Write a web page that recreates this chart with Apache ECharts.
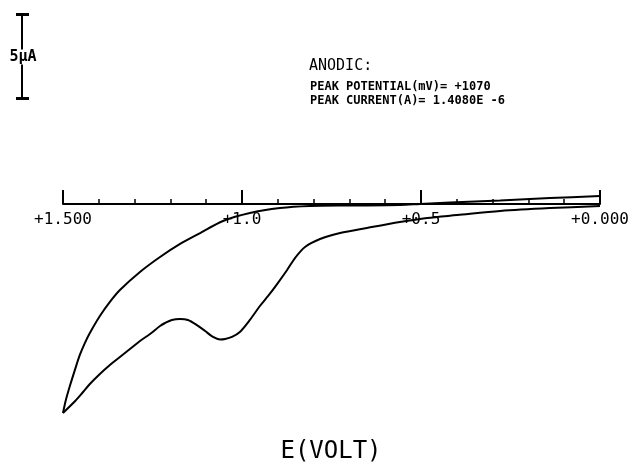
<!DOCTYPE html>
<html>
<head>
<meta charset="utf-8">
<script src="https://cdn.jsdelivr.net/npm/echarts@6/dist/echarts.min.js"></script>
<style>
  html, body { margin: 0; padding: 0; background: #fff; }
  #chart { width: 636px; height: 466px; }
</style>
</head>
<body>
<div id="chart"></div>
<script>
// Cyclic voltammogram: potential in volts, current in microamps (anodic drawn downward)
var forwardE = [0.000, 0.140, 0.279, 0.399, 0.483, 0.559, 0.651, 0.726, 0.782, 0.824, 0.852, 0.874,
                0.902, 0.927, 0.950, 0.978, 1.006, 1.028, 1.047, 1.061, 1.081, 1.103, 1.126, 1.151,
                1.173, 1.196, 1.215, 1.229, 1.257, 1.285, 1.313, 1.341, 1.369, 1.397, 1.425, 1.444,
                1.466, 1.500];
var forwardI = [0.12, 0.24, 0.41, 0.65, 0.82, 1.06, 1.41, 1.71, 2.06, 2.53, 3.18, 3.88,
                4.71, 5.41, 6.00, 6.82, 7.53, 7.82, 7.94, 7.97, 7.82, 7.47, 7.12, 6.82,
                6.76, 6.82, 7.00, 7.18, 7.65, 8.06, 8.53, 9.00, 9.47, 10.00, 10.59, 11.06,
                11.59, 12.29];

var reverseE = [1.500, 1.492, 1.480, 1.466, 1.453, 1.439, 1.425, 1.397, 1.369, 1.341, 1.285, 1.229,
                1.173, 1.117, 1.053, 0.978, 0.894, 0.810, 0.698, 0.559, 0.503, 0.419, 0.279, 0.140,
                0.000];
var reverseI = [12.29, 11.53, 10.65, 9.71, 8.88, 8.18, 7.59, 6.59, 5.76, 5.06, 4.00, 3.12,
                2.35, 1.71, 1.00, 0.53, 0.24, 0.12, 0.09, 0.06, 0.00, -0.09, -0.21, -0.35,
                -0.47];

var tickValues = [0, 0.5, 1.0, 1.5];
var tickLabels = ['+0.000', '+0.5', '+1.0', '+1.500'];

var scaleBarMicroamps = 5;
var scaleBarLabel = '5\u03bcA';
var headerLines = ['ANODIC:', 'PEAK POTENTIAL(mV)= +1070', 'PEAK CURRENT(A)= 1.4080E -6'];
var xTitle = 'E(VOLT)';

function pairs(xs, ys) {
  return xs.map(function (x, i) { return [x, ys[i]]; });
}

var mono = 'DejaVu Sans Mono';
var gridTop = 170, gridHeight = 272;
var chart = echarts.init(document.getElementById('chart'), null, { renderer: 'canvas' });

chart.setOption({
  backgroundColor: '#fff',
  animation: false,
  grid: { left: 63, right: 36, top: gridTop, height: gridHeight },
  xAxis: {
    type: 'value',
    min: 0,
    max: 1.5,
    interval: 0.5,
    inverse: true,
    axisLine: { onZero: false, lineStyle: { color: '#000', width: 2 } },
    axisTick: { inside: true, length: 14, lineStyle: { color: '#000', width: 2 } },
    minorTick: { show: true, splitNumber: 5, length: 5, lineStyle: { color: '#000', width: 1.5 } },
    splitLine: { show: false },
    axisLabel: {
      color: '#000',
      fontFamily: mono,
      fontSize: 16,
      margin: 8,
      showMinLabel: true,
      showMaxLabel: true,
      formatter: function (v) {
        for (var i = 0; i < tickValues.length; i++) {
          if (Math.abs(v - tickValues[i]) < 1e-6) return tickLabels[i];
        }
        return '';
      }
    }
  },
  yAxis: {
    type: 'value',
    min: -2,
    max: 14,
    inverse: true,
    show: false
  },
  series: [
    {
      name: 'forward',
      type: 'line',
      data: pairs(forwardE, forwardI),
      showSymbol: false,
      smooth: 0.3,
      lineStyle: { color: '#000', width: 2 }
    },
    {
      name: 'reverse',
      type: 'line',
      data: pairs(reverseE, reverseI),
      showSymbol: false,
      smooth: 0.3,
      lineStyle: { color: '#000', width: 2 }
    }
  ]
});

// Lift the potential axis (with its labels) up to the zero-current line
var y0 = chart.convertToPixel({ yAxisIndex: 0 }, 0);
chart.setOption({ xAxis: { offset: y0 - (gridTop + gridHeight) } });

// Current scale bar and text annotations
var y5 = chart.convertToPixel({ yAxisIndex: 0 }, scaleBarMicroamps);
var barLen = Math.abs(y5 - y0);
var barX = 22, barTop = 14, barBottom = barTop + barLen, barMid = (barTop + barBottom) / 2;

chart.setOption({
  graphic: [
    { type: 'line', shape: { x1: barX, y1: barTop, x2: barX, y2: barMid - 7 }, style: { stroke: '#000', lineWidth: 2 } },
    { type: 'line', shape: { x1: barX, y1: barMid + 8, x2: barX, y2: barBottom }, style: { stroke: '#000', lineWidth: 2 } },
    { type: 'rect', shape: { x: barX - 6, y: barTop - 1, width: 13, height: 3 }, style: { fill: '#000' } },
    { type: 'rect', shape: { x: barX - 6, y: barBottom - 2, width: 13, height: 3 }, style: { fill: '#000' } },
    { type: 'text', x: barX + 1, y: barMid + 1, style: { text: scaleBarLabel, fill: '#000', font: 'bold 15px "DejaVu Sans Mono"', align: 'center', verticalAlign: 'middle' } },
    { type: 'text', x: 309, y: 66, style: { text: headerLines[0], fill: '#000', font: '15px "DejaVu Sans Mono"', verticalAlign: 'middle' } },
    { type: 'text', x: 310, y: 87, style: { text: headerLines[1], fill: '#000', font: 'bold 12px "DejaVu Sans Mono"', verticalAlign: 'middle' } },
    { type: 'text', x: 310, y: 101, style: { text: headerLines[2], fill: '#000', font: 'bold 12px "DejaVu Sans Mono"', verticalAlign: 'middle' } },
    { type: 'text', x: 331, y: 452, style: { text: xTitle, fill: '#000', font: '24px "DejaVu Sans Mono"', align: 'center', verticalAlign: 'middle' } }
  ]
});
</script>
</body>
</html>
